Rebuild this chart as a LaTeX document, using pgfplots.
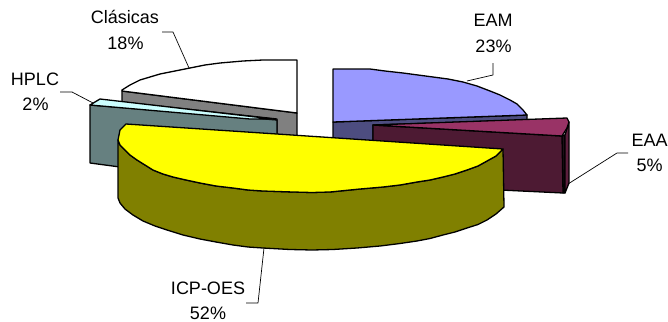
\documentclass[border=0pt]{standalone}
\usepackage{pgfplots}
\pgfplotsset{compat=1.18}
\usepackage{fontspec}
\setmainfont{Liberation Sans}
\definecolor{eamtop}{HTML}{9999FF}
\definecolor{eamside}{HTML}{4D4D80}
\definecolor{eaatop}{HTML}{993366}
\definecolor{eaaside}{HTML}{4D1A33}
\definecolor{eaadark}{HTML}{1F0E18}
\definecolor{icptop}{HTML}{FFFF00}
\definecolor{icpside}{HTML}{808000}
\definecolor{hplctop}{HTML}{CCFFFF}
\definecolor{hplcside}{HTML}{668080}
\definecolor{classide}{HTML}{808080}
\begin{document}
\begin{tikzpicture}
% The page is exactly the frame of the axis
\useasboundingbox (0,0) rectangle (668bp,322bp);
\begin{axis}[
  at={(0,0)}, anchor=south west,
  scale only axis, width=668bp, height=322bp,
  xmin=0, xmax=668, ymin=0, ymax=322, y dir=reverse,
  hide axis, clip=false,
  every axis plot/.append style={line width=1.3bp, line join=round},
]
% Clasicas wedge: side, then top face
\addplot[draw=black, fill=classide] coordinates {(122,91) (297,113) (297,140) (277,140) (277,119) (122,102)} -- cycle;
\addplot[draw=black, fill=white] coordinates {(122,91) (122,90) (130,85) (140,80) (150,77) (160,74) (175,71) (190,68) (205,65) (220,63) (243,61) (263,60) (297,60) (297,113)} -- cycle;
% HPLC wedge
\addplot[draw=black, fill=hplcside] coordinates {(90,105) (277,120) (277,140) (120,140) (120,167) (90,163)} -- cycle;
\addplot[draw=black, fill=hplctop] coordinates {(90,105) (100,99) (273,119) (250,119)} -- cycle;
% EAM wedge
\addplot[draw=black, fill=eamside] coordinates {(333,122) (527,115) (527,120) (373,125) (373,145) (333,145)} -- cycle;
\addplot[draw=black, fill=eamtop] coordinates {(333,122) (333,69) (370,69) (385,71) (403,73) (418,75) (433,77) (448,79) (463,82) (477,86) (490,91) (500,95) (510,100) (517,104) (523,110) (527,115)} -- cycle;
% EAA wedge
\addplot[draw=black, fill=eaadark] coordinates {(562,136) (565,135) (565,193) (563,193)} -- cycle;
\addplot[draw=black, fill=eaatop!60!black] coordinates {(565,135) (569,122) (569,183) (565,193)} -- cycle;
\addplot[draw=black, fill=eaaside] coordinates {(373,125) (562,136) (563,193) (500,190) (373,180)} -- cycle;
\addplot[draw=black, fill=eaatop] coordinates {(373,125) (567,118) (569,122) (567,128) (562,136)} -- cycle;
% ICP-OES wedge
\addplot[draw=black, fill=icpside] coordinates {(118,140) (120,145) (125,150) (130,155) (137,160) (145,165) (153,170) (163,174) (173,177) (186,180) (200,183) (216,186) (233,188) (248,190) (263,191) (278,191.5) (293,192) (312,192.5) (330,192) (345,190.5) (360,189) (383,187) (400,185) (417,182) (430,180) (443,177) (455,174) (467,170) (478,166) (487,161) (496,156) (503,149) (504,207) (496,214) (487,220) (478,224.5) (467,228) (455,232) (443,235) (430,238.5) (417,241) (400,243.5) (380,246) (357,248) (333,249.5) (312,250) (290,249.5) (263,248) (248,247) (233,245) (216,242) (200,239) (183,235) (167,230) (155,226) (143,221) (133,215) (125,209) (120,203) (118,198)} -- cycle;
\addplot[draw=black, fill=icptop] coordinates {(126,124) (503,149) (496,156) (487,161) (478,166) (467,170) (455,174) (443,177) (430,180) (417,182) (400,185) (383,187) (360,189) (345,190.5) (330,192) (312,192.5) (293,192) (278,191.5) (263,191) (248,190) (233,188) (216,186) (200,183) (186,180) (173,177) (163,174) (153,170) (145,165) (137,160) (130,155) (125,150) (120,145) (118,140) (120,130)} -- cycle;
% Leader lines
\addplot[draw=black, line width=0.7bp] coordinates {(162,32) (173,32) (189,68)};
\addplot[draw=black, line width=0.7bp] coordinates {(493,63) (493,75) (467,81)};
\addplot[draw=black, line width=0.7bp] coordinates {(568,184) (617,153) (628,153)};
\addplot[draw=black, line width=0.7bp] coordinates {(60,92) (72,92) (93,103)};
\addplot[draw=black, line width=0.7bp] coordinates {(264,248) (258,303) (246,303)};
% Slice labels
\begin{scope}[every node/.style={anchor=base, font=\fontsize{18bp}{21bp}\selectfont, text=black, inner sep=0pt}]
\node at (axis cs:125,24) {Clásicas};
\node at (axis cs:125.5,49) {18\%};
\node at (axis cs:493,27) {EAM};
\node at (axis cs:493.5,52) {23\%};
\node at (axis cs:649.5,146) {EAA};
\node at (axis cs:649.5,171) {5\%};
\node at (axis cs:35,85) {HPLC};
\node at (axis cs:35.5,110) {2\%};
\node at (axis cs:208,294) {ICP-OES};
\node at (axis cs:208,319.5) {52\%};
\end{scope}
\end{axis}
\end{tikzpicture}
\end{document}
